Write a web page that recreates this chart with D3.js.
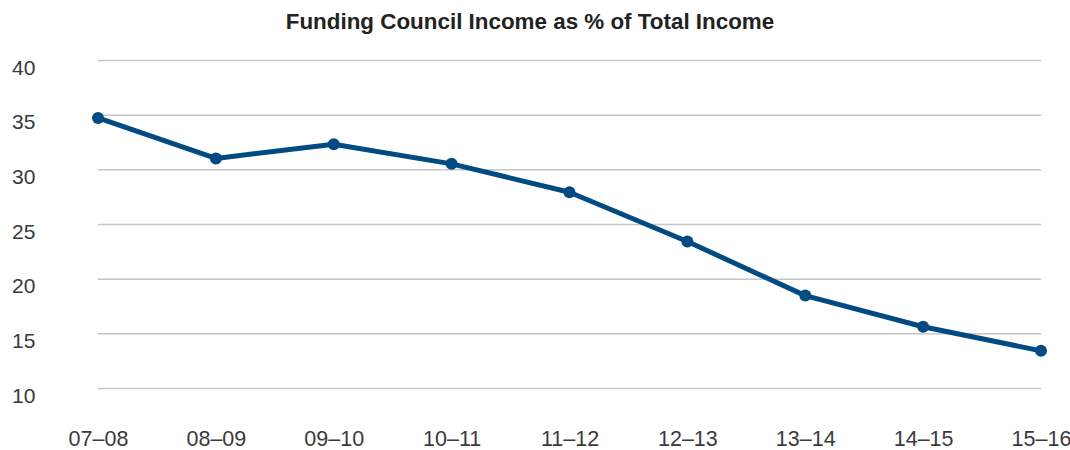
<!DOCTYPE html>
<html>
<head>
<meta charset="utf-8">
<script src="https://cdn.jsdelivr.net/npm/d3@7"></script>
<style>
  html, body { margin: 0; padding: 0; background: #fff; }
  svg { display: block; }
  text { font-family: "Liberation Sans", Arial, Helvetica, sans-serif; }
</style>
</head>
<body>
<svg id="chart" width="1070" height="450"></svg>
<script>
// Academic years and funding council income share (%)
const years = ["07–08", "08–09", "09–10", "10–11", "11–12", "12–13", "13–14", "14–15", "15–16"];
const shares = [34.7, 31.0, 32.3, 30.5, 27.9, 23.4, 18.45, 15.6, 13.4];
const yTicks = [10, 15, 20, 25, 30, 35, 40];
const title = "Funding Council Income as % of Total Income";

const svg = d3.select("#chart");
const plot = { left: 98, right: 1041, top: 60, bottom: 388 };

const x = d3.scalePoint().domain(years).range([plot.left, plot.right]);
const y = d3.scaleLinear().domain([10, 40]).range([plot.bottom, plot.top]);

// Title
svg.append("text")
  .attr("x", 530).attr("y", 28.5)
  .attr("text-anchor", "middle")
  .attr("font-size", 22.4).attr("font-weight", "bold")
  .attr("fill", "#222")
  .text(title);

// Horizontal gridlines with labels to the left
const yAxis = d3.axisLeft(y)
  .tickValues(yTicks)
  .tickSize(-(plot.right - plot.left))
  .tickPadding(0)
  .tickFormat(d3.format("d"));

const gy = svg.append("g")
  .attr("transform", `translate(${plot.left},0)`)
  .call(yAxis);
gy.select(".domain").remove();
gy.selectAll(".tick line").attr("stroke", "#c6c6c8").attr("stroke-width", 1.5);
gy.selectAll(".tick text")
  .attr("x", 12 - plot.left)
  .attr("dy", "0.67em")
  .attr("text-anchor", "start")
  .attr("font-size", 21)
  .attr("fill", "#3a3a3a");

// Category labels along the bottom
const xAxis = d3.axisBottom(x).tickSize(0).tickPadding(0);
const gx = svg.append("g")
  .attr("transform", `translate(0,446)`)
  .call(xAxis);
gx.select(".domain").remove();
gx.selectAll(".tick text")
  .attr("y", 0).attr("dy", 0)
  .attr("font-size", 21.5)
  .attr("fill", "#3a3a3a");

// Series line and markers
const lineColor = "#024a82";
const line = d3.line()
  .x((d, i) => x(years[i]))
  .y(d => y(d));

svg.append("path")
  .datum(shares)
  .attr("fill", "none")
  .attr("stroke", lineColor)
  .attr("stroke-width", 5)
  .attr("stroke-linejoin", "round")
  .attr("d", line);

svg.append("g").selectAll("circle")
  .data(shares)
  .join("circle")
  .attr("cx", (d, i) => x(years[i]))
  .attr("cy", d => y(d))
  .attr("r", 6)
  .attr("fill", lineColor);
</script>
</body>
</html>
